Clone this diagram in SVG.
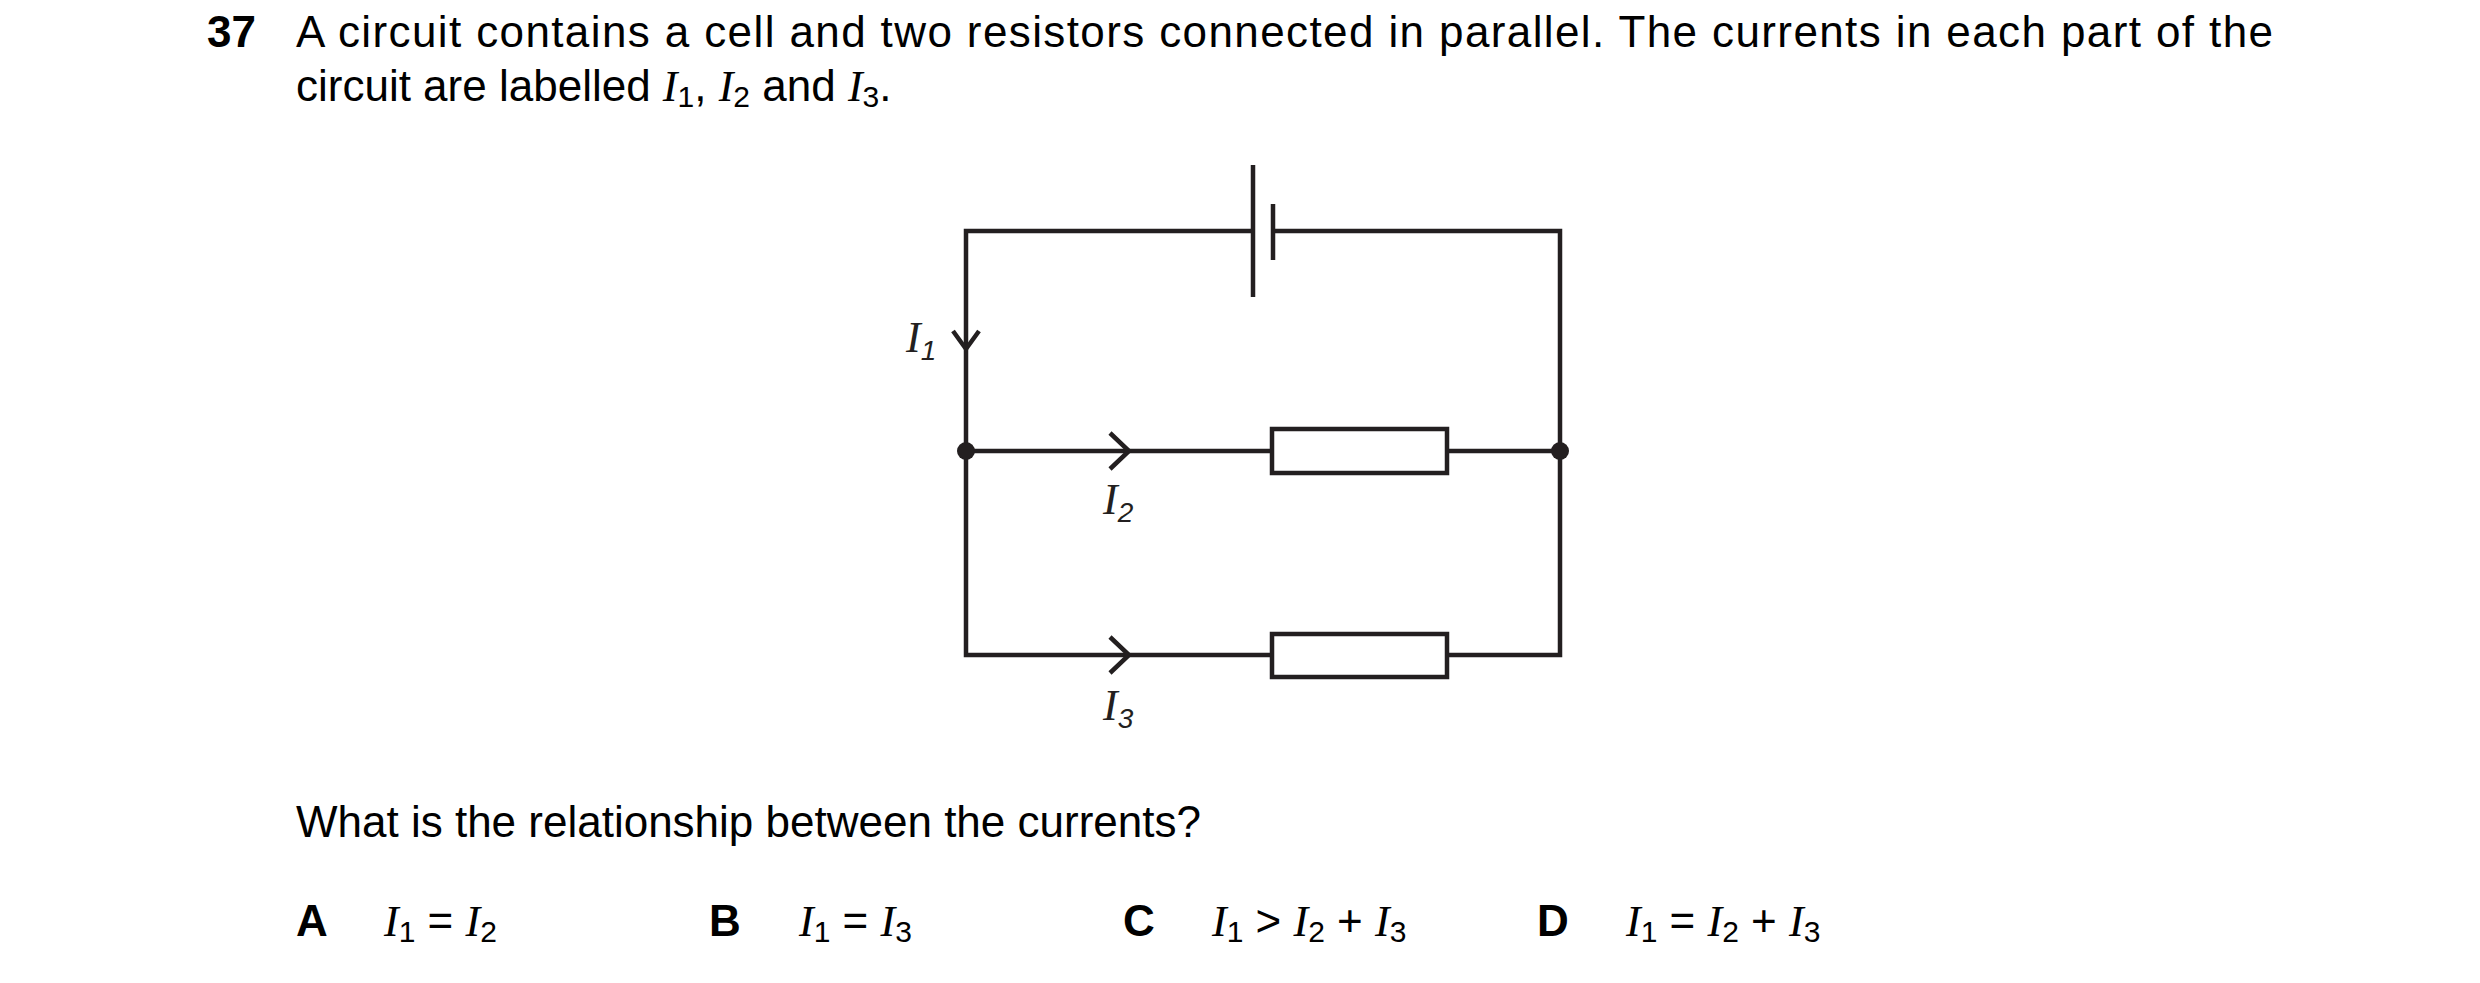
<svg xmlns="http://www.w3.org/2000/svg" width="2480" height="983" viewBox="0 0 2480 983">
<style>
.t{font-family:"Liberation Sans",Arial,sans-serif;font-size:44px;fill:#000}
.b{font-weight:bold}
.i{font-family:"Liberation Serif","Times New Roman",serif;font-style:italic}
.s{font-size:30px}
.w{stroke:#231f20;stroke-width:4.5;fill:none}
.cl{font-family:"Liberation Serif",serif;font-style:italic;font-size:44px;fill:#231f20}
.cs{font-family:"Liberation Sans",sans-serif;font-size:28px;fill:#231f20}
</style>
<rect width="2480" height="983" fill="#fff"/>
<text class="t b" x="207" y="47">37</text>
<text class="t" x="296" y="47" textLength="1977" lengthAdjust="spacing">A circuit contains a cell and two resistors connected in parallel. The currents in each part of the</text>
<text class="t" x="296" y="101">circuit are labelled <tspan class="i">I</tspan><tspan class="s" dy="6">1</tspan><tspan dy="-6">, </tspan><tspan class="i">I</tspan><tspan class="s" dy="6">2</tspan><tspan dy="-6"> and </tspan><tspan class="i">I</tspan><tspan class="s" dy="6">3</tspan><tspan dy="-6">.</tspan></text>
<g id="connectors">
<path class="w" d="M1253 231 H966 V655 H1272 M1447 655 H1560 V231 H1273 M966 451 H1272 M1447 451 H1560"/>
<path class="w" d="M953 331 L966 349 L979 331 M1110 433 L1129 451 L1110 469 M1110 637 L1129 655 L1110 673"/>
</g>
<g id="cell"><path class="w" d="M1253 165 V297 M1273 204 V260"/></g>
<g id="r1"><rect class="w" x="1272" y="429" width="175" height="44"/></g>
<g id="r2"><rect class="w" x="1272" y="634" width="175" height="43"/></g>
<g id="junctions"><circle cx="966" cy="451" r="9" fill="#231f20"/><circle cx="1560" cy="451" r="9" fill="#231f20"/></g>
<g id="labels">
<text class="cl" x="906" y="352">I<tspan class="cs" dy="8">1</tspan></text>
<text class="cl" x="1103" y="514">I<tspan class="cs" dy="8">2</tspan></text>
<text class="cl" x="1103" y="720">I<tspan class="cs" dy="8">3</tspan></text>
</g>
<text class="t" x="296" y="837">What is the relationship between the currents?</text>
<g class="t">
<text class="t b" x="296" y="936">A</text>
<text class="t" x="384" y="936"><tspan class="i">I</tspan><tspan class="s" dy="6">1</tspan><tspan dy="-6"> = </tspan><tspan class="i">I</tspan><tspan class="s" dy="6">2</tspan></text>
<text class="t b" x="709" y="936">B</text>
<text class="t" x="799" y="936"><tspan class="i">I</tspan><tspan class="s" dy="6">1</tspan><tspan dy="-6"> = </tspan><tspan class="i">I</tspan><tspan class="s" dy="6">3</tspan></text>
<text class="t b" x="1123" y="936">C</text>
<text class="t" x="1212" y="936"><tspan class="i">I</tspan><tspan class="s" dy="6">1</tspan><tspan dy="-6"> &gt; </tspan><tspan class="i">I</tspan><tspan class="s" dy="6">2</tspan><tspan dy="-6"> + </tspan><tspan class="i">I</tspan><tspan class="s" dy="6">3</tspan></text>
<text class="t b" x="1537" y="936">D</text>
<text class="t" x="1626" y="936"><tspan class="i">I</tspan><tspan class="s" dy="6">1</tspan><tspan dy="-6"> = </tspan><tspan class="i">I</tspan><tspan class="s" dy="6">2</tspan><tspan dy="-6"> + </tspan><tspan class="i">I</tspan><tspan class="s" dy="6">3</tspan></text>
</g>
</svg>
